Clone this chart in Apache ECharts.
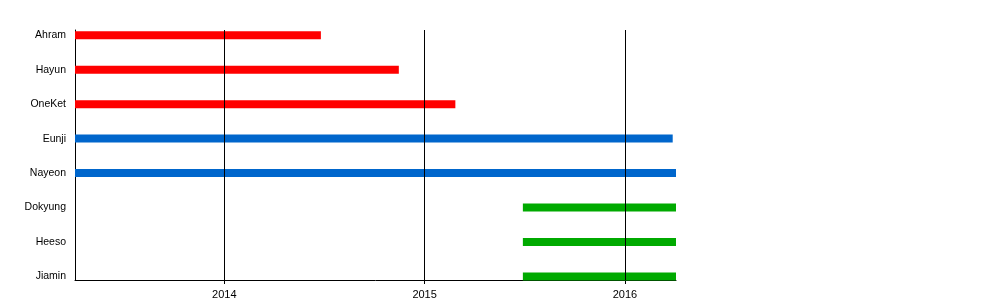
<!DOCTYPE html>
<html><head><meta charset="utf-8">
<script src="https://cdn.jsdelivr.net/npm/echarts@6/dist/echarts.min.js"></script>
<style>html,body{margin:0;padding:0;background:#fff}#c{width:1000px;height:300px}</style>
</head><body><div id="c"></div>
<script>
const members = ['Ahram','Hayun','OneKet','Eunji','Nayeon','Dokyung','Heeso','Jiamin'];
const starts = ['2013-04-04','2013-04-04','2013-04-04','2013-04-04','2013-04-04','2015-06-29','2015-06-29','2015-06-29'];
const ends = ['2014-06-26','2014-11-15','2015-02-26','2016-03-28','2016-04-03','2016-04-03','2016-04-03','2016-04-03'];
const groups = ['former','former','former','current','current','new','new','new'];
const yearTicks = ['2014-01-01','2015-01-01','2016-01-01'];
const axisStart = '2013-04-04';
const axisEnd = '2016-04-03';

const groupColor = {former:'#ff0000', current:'#0066cc', new:'#00aa00'};
const ts = s => Date.parse(s + 'T00:00:00Z');
const data = members.map((m,i)=>({value:[i, ts(starts[i]), ts(ends[i])], itemStyle:{color:groupColor[groups[i]]}}));

const chart = echarts.init(document.getElementById('c'), null, {renderer:'canvas'});
chart.setOption({
  animation:false,
  grid:{left:75, right:324, top:30, bottom:20, outerBoundsMode:'none', containLabel:false},
  xAxis:{
    type:'value', min:ts(axisStart), max:ts(axisEnd), scale:true,
    axisLine:{show:true, onZero:false, lineStyle:{color:'#000', width:1}},
    axisTick:{show:true, customValues:yearTicks.map(ts), length:4, lineStyle:{color:'#000', width:1}},
    splitLine:{show:false},
    axisLabel:{customValues:yearTicks.map(ts), formatter:v=>String(new Date(v).getUTCFullYear()),
      color:'#000', fontSize:11, fontFamily:'Liberation Sans', margin:9, hideOverlap:false}
  },
  yAxis:{
    type:'value', inverse:true, min:-0.15, max:7.1,
    axisLine:{show:true, onZero:false, lineStyle:{color:'#000', width:1}},
    axisTick:{show:false},
    splitLine:{show:false},
    axisLabel:{customValues:members.map((m,i)=>i), formatter:v=>members[v]||'',
      color:'#000', fontSize:10.5, fontFamily:'Liberation Sans', margin:9}
  },
  series:[{
    type:'custom',
    encode:{x:[1,2], y:0},
    data:data,
    renderItem:function(params, api){
      const a = api.coord([api.value(1), api.value(0)]);
      const b = api.coord([api.value(2), api.value(0)]);
      return {type:'rect', shape:{x:a[0], y:a[1]-4, width:b[0]-a[0], height:8},
        style:{fill:api.visual('color')}};
    },
    markLine:{
      silent:true, symbol:['none','none'], animation:false,
      label:{show:false},
      lineStyle:{color:'#000', width:1, type:'solid'},
      data:yearTicks.map(t=>({xAxis:ts(t)}))
    }
  }]
});
</script></body></html>
